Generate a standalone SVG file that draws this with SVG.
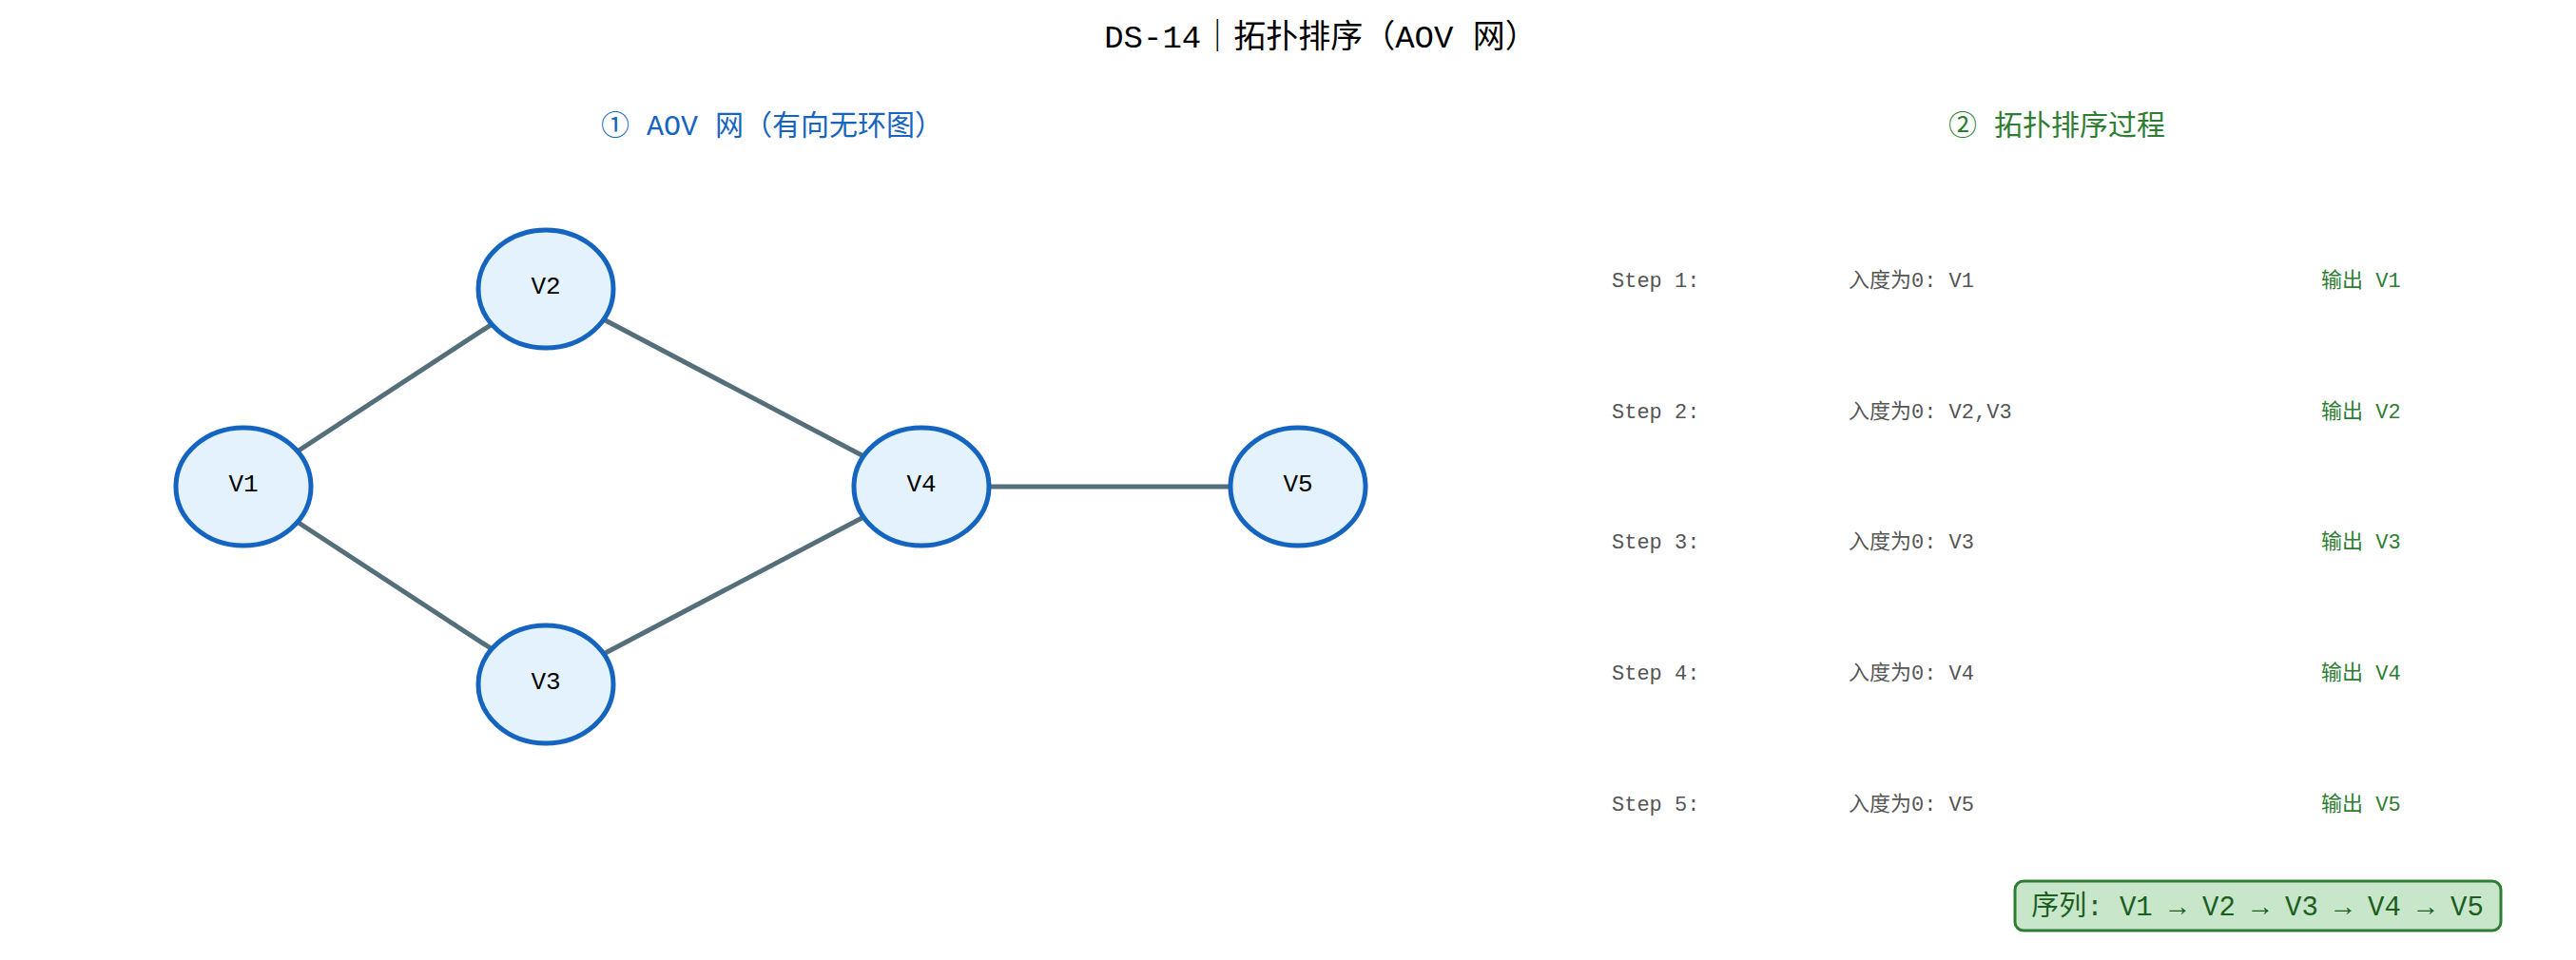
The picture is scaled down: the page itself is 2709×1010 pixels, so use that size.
<svg xmlns="http://www.w3.org/2000/svg" width="2709" height="1010" viewBox="0 0 2709 1010">
<style>
text{font-family:"Liberation Mono","Noto Sans CJK SC",monospace}
.n{fill:#E3F2FD;stroke:#1565C0;stroke-width:5}
.nl{font-size:26px;fill:#000;text-anchor:middle;dominant-baseline:central}
.e{stroke:#546E7A;stroke-width:5;fill:none}
.s{font-size:22px;fill:#555}
.o{font-size:22px;fill:#2E7D32}
</style>
<rect width="2709" height="1010" fill="#fff"/>
<text x="1389" y="50" font-size="34" text-anchor="middle" fill="#000">DS-14｜拓扑排序（AOV 网）</text>
<text x="812" y="142" font-size="30" text-anchor="middle" fill="#1565C0">① AOV 网（有向无环图）</text>
<text x="2163" y="142" font-size="30" text-anchor="middle" fill="#2E7D32">② 拓扑排序过程</text>
<g id="edges">
<line class="e" x1="256" y1="512" x2="574" y2="304"/>
<line class="e" x1="256" y1="512" x2="574" y2="720"/>
<line class="e" x1="574" y1="304" x2="969" y2="512"/>
<line class="e" x1="574" y1="720" x2="969" y2="512"/>
<line class="e" x1="969" y1="512" x2="1365" y2="512"/>
</g>
<g id="V1"><ellipse class="n" cx="256" cy="512" rx="71" ry="62"/><text class="nl" x="256" y="510">V1</text></g>
<g id="V2"><ellipse class="n" cx="574" cy="304" rx="71" ry="62"/><text class="nl" x="574" y="302">V2</text></g>
<g id="V3"><ellipse class="n" cx="574" cy="720" rx="71" ry="62"/><text class="nl" x="574" y="718">V3</text></g>
<g id="V4"><ellipse class="n" cx="969" cy="512" rx="71" ry="62"/><text class="nl" x="969" y="510">V4</text></g>
<g id="V5"><ellipse class="n" cx="1365" cy="512" rx="71" ry="62"/><text class="nl" x="1365" y="510">V5</text></g>
<g id="steps">
<text class="s" x="1695" y="302">Step 1:</text><text class="s" x="1944" y="302">入度为0: V1</text><text class="o" x="2441" y="302">输出 V1</text>
<text class="s" x="1695" y="440">Step 2:</text><text class="s" x="1944" y="440">入度为0: V2,V3</text><text class="o" x="2441" y="440">输出 V2</text>
<text class="s" x="1695" y="577">Step 3:</text><text class="s" x="1944" y="577">入度为0: V3</text><text class="o" x="2441" y="577">输出 V3</text>
<text class="s" x="1695" y="715">Step 4:</text><text class="s" x="1944" y="715">入度为0: V4</text><text class="o" x="2441" y="715">输出 V4</text>
<text class="s" x="1695" y="853">Step 5:</text><text class="s" x="1944" y="853">入度为0: V5</text><text class="o" x="2441" y="853">输出 V5</text>
</g>
<g id="sequence">
<rect x="2119" y="927" width="511" height="52" rx="9" fill="#C8E6C9" stroke="#2E7D32" stroke-width="3"/>
<text x="2374" y="963" font-size="29" text-anchor="middle" fill="#1B5E20">序列: V1 → V2 → V3 → V4 → V5</text>
</g>
</svg>
